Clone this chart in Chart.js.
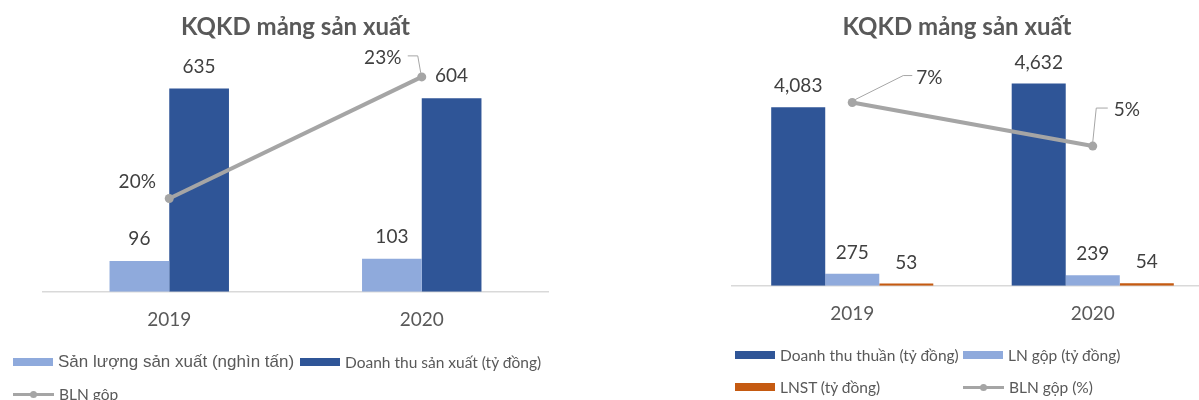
<!DOCTYPE html>
<html>
<head>
<meta charset="utf-8">
<script src="https://cdn.jsdelivr.net/npm/chart.js@4.4.1/dist/chart.umd.min.js"></script>
<style>
  html, body { margin: 0; padding: 0; background: #fff; }
  body { width: 1199px; height: 400px; overflow: hidden; position: relative; font-family: Lato, sans-serif; color: #595959; }
  canvas { position: absolute; top: 0; }
  #leftChart { left: 0; }
  #rightChart { left: 600px; }
  .legend { position: absolute; display: grid; }
  .legend .item { display: flex; align-items: center; height: 32px; font-size: 15.5px; white-space: nowrap; }
  .legend .box { display: inline-block; width: 40px; height: 8px; margin-right: 5px; }
  .legend .line { position: relative; display: inline-block; width: 41px; height: 3px; margin-right: 5px; }
  .legend .line::after { content: ''; position: absolute; left: 50%; top: 50%; width: 7px; height: 7px; margin: -3.5px 0 0 -3.5px; border-radius: 50%; background: inherit; }
  #leftLegend { left: 13px; top: 346px; grid-template-columns: 287px auto; }
  #rightLegend { left: 735px; top: 339px; grid-template-columns: 228px auto; }
</style>
</head>
<body>
<canvas id="leftChart" width="600" height="360"></canvas>
<canvas id="rightChart" width="660" height="360"></canvas>
<div id="leftLegend" class="legend"></div>
<div id="rightLegend" class="legend"></div>
<script>
// Dữ liệu
const years = ['2019', '2020'];

// Biểu đồ trái
const sanLuongSX = [96, 103];     // nghìn tấn
const doanhThuSX = [635, 604];    // tỷ đồng
const blnGopSX = [20, 23];        // %

// Biểu đồ phải
const doanhThuThuan = [4083, 4632];
const lnGop = [275, 239];
const lnst = [53, 54];
const blnGop = [7, 5];

const DARK = '#2F5597';
const LIGHT = '#8FAADC';
const ORANGE = '#C55A11';
const GRAY = '#A5A5A5';
const TEXT = '#595959';

// Nhãn giá trị + đường dẫn nhãn %
function valueLabels(offset, pointLabels) {
    return {
        id: 'valueLabels',
        afterDatasetsDraw(chart) {
            const ctx = chart.ctx;
            ctx.save();
            ctx.font = '19px Lato';
            ctx.fillStyle = '#404040';
            ctx.textAlign = 'center';
            ctx.textBaseline = 'middle';
            chart.data.datasets.forEach((ds, i) => {
                const meta = chart.getDatasetMeta(i);
                meta.data.forEach((el, j) => {
                    const v = ds.data[j];
                    if (ds.type === 'line') {
                        const p = pointLabels[j];
                        if (p.leader) {
                            ctx.beginPath();
                            ctx.strokeStyle = '#A6A6A6';
                            ctx.lineWidth = 1;
                            p.leader.forEach(([dx, dy], k) => {
                                if (k === 0) ctx.moveTo(el.x + dx, el.y + dy);
                                else ctx.lineTo(el.x + dx, el.y + dy);
                            });
                            ctx.stroke();
                        }
                        ctx.fillText(v + '%', el.x + p.dx, el.y + p.dy);
                    } else {
                        ctx.fillText(v.toLocaleString('en-US'), el.x, el.y - offset);
                    }
                });
            });
            ctx.restore();
        }
    };
}

function xAxis() {
    return {
        grid: { display: false, drawTicks: false },
        border: { color: '#D9D9D9', width: 1.5 },
        ticks: { color: TEXT, font: { family: 'Lato', size: 19 }, padding: 17 }
    };
}

function titleOpts() {
    return {
        display: true,
        text: 'KQKD mảng sản xuất',
        color: TEXT,
        font: { family: 'Lato', size: 24, weight: 'bold' },
        padding: { top: 13, bottom: 29 }
    };
}

// Chú thích HTML
function buildLegend(chart, el, fonts) {
    chart.data.datasets.forEach((ds, i) => {
        const item = document.createElement('div');
        item.className = 'item';
        const sw = document.createElement('span');
        sw.className = ds.type === 'line' ? 'line' : 'box';
        sw.style.background = ds.type === 'line' ? ds.borderColor : ds.backgroundColor;
        const txt = document.createElement('span');
        txt.textContent = ds.label;
        if (fonts && fonts[i]) txt.style.font = fonts[i];
        item.appendChild(sw);
        item.appendChild(txt);
        el.appendChild(item);
    });
}

const leftChart = new Chart(document.getElementById('leftChart'), {
    type: 'bar',
    data: {
        labels: years,
        datasets: [
            { type: 'bar', label: 'Sản lượng sản xuất (nghìn tấn)', data: sanLuongSX, backgroundColor: LIGHT, yAxisID: 'y', order: 1 },
            { type: 'bar', label: 'Doanh thu sản xuất (tỷ đồng)', data: doanhThuSX, backgroundColor: DARK, yAxisID: 'y', order: 1 },
            { type: 'line', label: 'BLN gộp', data: blnGopSX, borderColor: GRAY, backgroundColor: GRAY, borderWidth: 4,
              pointRadius: 4.5, pointBackgroundColor: GRAY, pointBorderWidth: 0, yAxisID: 'y1', order: 0 }
        ]
    },
    options: {
        responsive: false,
        animation: false,
        layout: { padding: { left: 43, right: 52, top: 0, bottom: 11.5 } },
        datasets: { bar: { barPercentage: 1, categoryPercentage: 0.473 } },
        scales: {
            x: xAxis(),
            y: { display: false, min: 0, max: 690 },
            y1: { display: false, min: 17.7, max: 23.15 }
        },
        plugins: { legend: { display: false }, tooltip: { enabled: false }, title: titleOpts() }
    },
    plugins: [valueLabels(22, [
        { dx: -32, dy: -17 },
        { dx: -39, dy: -19, leader: [[-1, -4], [-4, -21], [-14, -21]] }
    ])]
});

const rightChart = new Chart(document.getElementById('rightChart'), {
    type: 'bar',
    data: {
        labels: years,
        datasets: [
            { type: 'bar', label: 'Doanh thu thuần (tỷ đồng)', data: doanhThuThuan, backgroundColor: DARK, yAxisID: 'y', order: 1 },
            { type: 'bar', label: 'LN gộp (tỷ đồng)', data: lnGop, backgroundColor: LIGHT, yAxisID: 'y', order: 1 },
            { type: 'bar', label: 'LNST (tỷ đồng)', data: lnst, backgroundColor: ORANGE, yAxisID: 'y', order: 1 },
            { type: 'line', label: 'BLN gộp (%)', data: blnGop, borderColor: GRAY, backgroundColor: GRAY, borderWidth: 4,
              pointRadius: 4.5, pointBackgroundColor: GRAY, pointBorderWidth: 0, yAxisID: 'y1', order: 0 }
        ]
    },
    options: {
        responsive: false,
        animation: false,
        layout: { padding: { left: 101, right: 47, top: 0, bottom: 17.5 } },
        datasets: { bar: { barPercentage: 1, categoryPercentage: 0.674 } },
        scales: {
            x: xAxis(),
            y: { display: true, min: 0, max: 4920, ticks: { display: false }, grid: { display: false },
                 border: { display: false }, afterFit(s) { s.width = 31; } },
            y1: { display: false, min: -1.42, max: 8.46 }
        },
        plugins: { legend: { display: false }, tooltip: { enabled: false }, title: titleOpts() }
    },
    plugins: [valueLabels(21, [
        { dx: 77, dy: -25, leader: [[3, -3], [51, -27], [60, -27]] },
        { dx: 34, dy: -36, leader: [[0, -4], [3.5, -38], [15, -38]] }
    ])]
});

buildLegend(leftChart, document.getElementById('leftLegend'), ['17px "Liberation Sans"', null, null]);
buildLegend(rightChart, document.getElementById('rightLegend'));
</script>
</body>
</html>
